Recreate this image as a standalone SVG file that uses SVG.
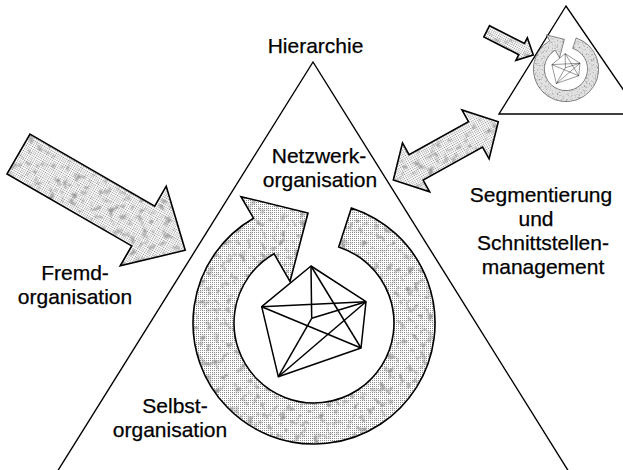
<svg xmlns="http://www.w3.org/2000/svg" xmlns:xlink="http://www.w3.org/1999/xlink" width="623" height="470" viewBox="0 0 623 470">
  <style>
    .lbl { font-family: "Liberation Sans", Arial, sans-serif; font-size: 21px; fill: #000; stroke: #000; stroke-width: 0.25; text-anchor: middle; }
    .edge { fill: none; stroke: #000; stroke-width: 1.6; stroke-linejoin: miter; }
    .tex { fill: url(#dither); stroke: none; filter: url(#grain); }
    .tri { fill: none; stroke: #000; stroke-width: 1.4; }
    .net { fill: none; stroke: #000; stroke-width: 1.5; stroke-linejoin: round; }
    .thin { vector-effect: non-scaling-stroke; }
  </style>
  <defs>
    <!-- light dithered fill used by all broad arrows -->
    <pattern id="dither" patternUnits="userSpaceOnUse" width="2" height="2">
      <rect width="2" height="2" fill="#fff"/>
      <rect width="1" height="1" fill="#8c8c8c"/>
    </pattern>
    <!-- finer, softer mottled blotches on top of the dither -->
    <filter id="grain" x="0%" y="0%" width="100%" height="100%" color-interpolation-filters="sRGB">
      <feTurbulence type="fractalNoise" baseFrequency="0.15" numOctaves="2" seed="7" result="noise"/>
      <feColorMatrix in="noise" type="matrix" values="0 0 0 0 0.6  0 0 0 0 0.6  0 0 0 0 0.6  3.5 0 0 0 -1.85" result="spots"/>
      <feComposite in="spots" in2="SourceAlpha" operator="in" result="clipped"/>
      <feMerge>
        <feMergeNode in="SourceGraphic"/>
        <feMergeNode in="clipped"/>
      </feMerge>
    </filter>
    <!-- circular arrow around the network, centre (314,323) -->
    <path id="ring" d="M351.4,207.9 A121,121 0 1 1 253.5,218.2 L241,196.6 L308,213 L290,281.4 L274,253.7 A80,80 0 1 0 338.7,246.9 Z"/>
    <!-- fully meshed network -->
    <g id="mesh">
      <polygon points="311,266 366,301.7 361,348 278.3,376.7 261.7,306.7"/>
      <line x1="261.7" y1="306.7" x2="366" y2="301.7"/>
      <line x1="311" y1="266" x2="311.7" y2="318.3"/>
      <line x1="311.7" y1="318.3" x2="366" y2="301.7"/>
      <line x1="311.7" y1="318.3" x2="278.3" y2="376.7"/>
      <line x1="261.7" y1="306.7" x2="361" y2="348"/>
      <line x1="311" y1="266" x2="361" y2="348"/>
      <line x1="278.3" y1="376.7" x2="366" y2="301.7"/>
    </g>
    <path id="bigArrow" d="M0,-23 L144,-23 L144,-46 L192.5,0 L144,46 L144,23 L0,23 Z"/>
    <path id="twoWay" d="M-60,0 L-34,-28 L-34,-14.5 L34,-14.5 L34,-28 L60,0 L34,28 L34,14.5 L-34,14.5 L-34,28 Z"/>
    <path id="smallArrow" d="M0,-6.3 L39.2,-6.3 L39.2,-12.6 L52.3,0 L39.2,12.6 L39.2,6.3 L0,6.3 Z"/>
  </defs>

  <rect width="623" height="470" fill="#fff"/>

  <!-- main hierarchy triangle -->
  <g id="hierarchie">
    <polygon class="tri" points="313,62 47,488 579,488"/>
    <text class="lbl" x="315.5" y="53">Hierarchie</text>
  </g>

  <!-- network organisation inside the triangle -->
  <g id="netzwerk">
    <use xlink:href="#ring" class="tex"/>
    <use xlink:href="#ring" class="edge"/>
    <use xlink:href="#mesh" class="net"/>
    <text class="lbl" x="319" y="163">Netzwerk-</text>
    <text class="lbl" x="320" y="187">organisation</text>
  </g>

  <g id="selbst">
    <text class="lbl" x="175" y="413">Selbst-</text>
    <text class="lbl" x="170" y="437">organisation</text>
  </g>

  <g id="fremd">
    <text class="lbl" x="75" y="280">Fremd-</text>
    <text class="lbl" x="75" y="304">organisation</text>
  </g>

  <!-- small segment triangle, top right -->
  <g id="segment">
    <polygon class="tri" points="566,6 499,114 640,114"/>
    <g transform="translate(566,69) scale(0.27) translate(-314,-323)">
      <use xlink:href="#ring" class="tex"/>
      <use xlink:href="#ring" class="edge thin"/>
      <use xlink:href="#mesh" class="net thin"/>
    </g>
  </g>

  <g id="schnittstellen">
    <text class="lbl" x="541" y="202">Segmentierung</text>
    <text class="lbl" x="536" y="226">und</text>
    <text class="lbl" x="543" y="250">Schnittstellen-</text>
    <text class="lbl" x="543" y="274">management</text>
  </g>

  <!-- connectors -->
  <g id="connectors">
    <g transform="translate(18.5,154) rotate(30)">
      <use xlink:href="#bigArrow" class="tex"/>
      <use xlink:href="#bigArrow" class="edge"/>
    </g>
    <g transform="translate(445.8,150.9) rotate(-29)">
      <use xlink:href="#twoWay" class="tex"/>
      <use xlink:href="#twoWay" class="edge"/>
    </g>
    <g transform="translate(486.7,31.3) rotate(27)">
      <use xlink:href="#smallArrow" class="tex"/>
      <use xlink:href="#smallArrow" class="edge"/>
    </g>
  </g>
</svg>
